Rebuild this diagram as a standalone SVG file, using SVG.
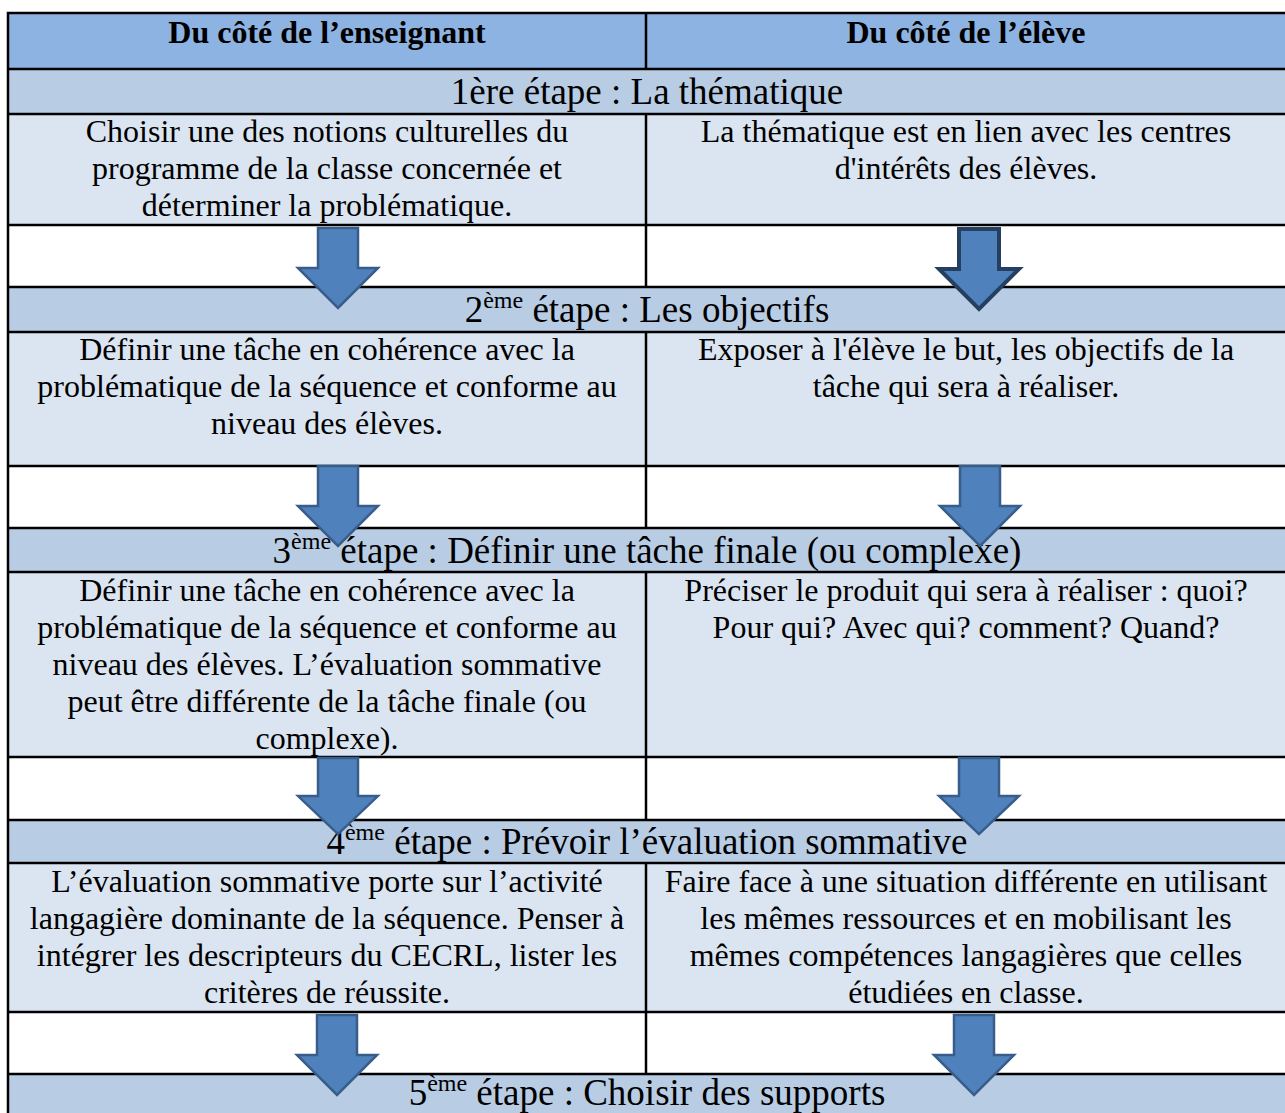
<svg xmlns="http://www.w3.org/2000/svg" width="1285" height="1113" viewBox="0 0 1285 1113">
<style>
.hdr{fill:#8DB3E2}
.ttl{fill:#B8CCE4}
.cnt{fill:#DBE5F1}
.blk{fill:#FFFFFF}
.grid{stroke:#000;stroke-width:2.5;fill:none}
text{font-family:"Liberation Serif","Times New Roman",serif;fill:#000;text-anchor:middle}
.h{font-size:32px;font-weight:bold}
.t{font-size:37px}
.b{font-size:32px}
.sup{font-size:24px}
.arr{fill:#4F81BD;stroke:#385D8A;stroke-width:2.5;stroke-linejoin:miter}
.arrd{fill:#4F81BD;stroke:#243F60;stroke-width:4;stroke-linejoin:miter}
</style>
<defs>
<path id="arrow" d="M -20,0 H 20 V 40 H 40 L 0,80 L -40,40 H -20 Z"/>
</defs>
<rect x="0" y="0" width="1285" height="1113" fill="#FFFFFF"/>

<g id="header">
<rect class="hdr" x="8" y="13" width="1280" height="56"/>
<text class="h" x="327" y="43">Du côté de l’enseignant</text>
<text class="h" x="966" y="43">Du côté de l’élève</text>
</g>

<g id="step1">
<rect class="ttl" x="8" y="69" width="1280" height="45"/>
<text class="t" x="647" y="104">1ère étape : La thématique</text>
</g>
<g id="step1-teacher">
<rect class="cnt" x="8" y="114" width="638" height="111"/>
<text class="b" x="327" y="142">Choisir une des notions culturelles du</text>
<text class="b" x="327" y="179">programme de la classe concernée et</text>
<text class="b" x="327" y="216">déterminer la problématique.</text>
</g>
<g id="step1-student">
<rect class="cnt" x="646" y="114" width="642" height="111"/>
<text class="b" x="966" y="142">La thématique est en lien avec les centres</text>
<text class="b" x="966" y="179">d'intérêts des élèves.</text>
</g>
<g id="gap1"><rect class="blk" x="8" y="225" width="1280" height="62"/></g>

<g id="step2">
<rect class="ttl" x="8" y="287" width="1280" height="45"/>
<text class="t" x="647" y="322">2<tspan class="sup" dy="-14">ème</tspan><tspan dy="14"> étape : Les objectifs</tspan></text>
</g>
<g id="step2-teacher">
<rect class="cnt" x="8" y="332" width="638" height="134"/>
<text class="b" x="327" y="360">Définir une tâche en cohérence avec la</text>
<text class="b" x="327" y="397">problématique de la séquence et conforme au</text>
<text class="b" x="327" y="434">niveau des élèves.</text>
</g>
<g id="step2-student">
<rect class="cnt" x="646" y="332" width="642" height="134"/>
<text class="b" x="966" y="360">Exposer à l'élève le but, les objectifs de la</text>
<text class="b" x="966" y="397">tâche qui sera à réaliser.</text>
</g>
<g id="gap2"><rect class="blk" x="8" y="466" width="1280" height="62"/></g>

<g id="step3">
<rect class="ttl" x="8" y="528" width="1280" height="44"/>
<text class="t" x="647" y="563">3<tspan class="sup" dy="-14">ème</tspan><tspan dy="14"> étape : Définir une tâche finale (ou complexe)</tspan></text>
</g>
<g id="step3-teacher">
<rect class="cnt" x="8" y="572" width="638" height="185"/>
<text class="b" x="327" y="601">Définir une tâche en cohérence avec la</text>
<text class="b" x="327" y="638">problématique de la séquence et conforme au</text>
<text class="b" x="327" y="675">niveau des élèves. L’évaluation sommative</text>
<text class="b" x="327" y="712">peut être différente de la tâche finale (ou</text>
<text class="b" x="327" y="749">complexe).</text>
</g>
<g id="step3-student">
<rect class="cnt" x="646" y="572" width="642" height="185"/>
<text class="b" x="966" y="601">Préciser le produit qui sera à réaliser : quoi?</text>
<text class="b" x="966" y="638">Pour qui? Avec qui? comment? Quand?</text>
</g>
<g id="gap3"><rect class="blk" x="8" y="757" width="1280" height="63"/></g>

<g id="step4">
<rect class="ttl" x="8" y="820" width="1280" height="43"/>
<text class="t" x="647" y="854">4<tspan class="sup" dy="-14">ème</tspan><tspan dy="14"> étape : Prévoir l’évaluation sommative</tspan></text>
</g>
<g id="step4-teacher">
<rect class="cnt" x="8" y="863" width="638" height="149"/>
<text class="b" x="327" y="892">L’évaluation sommative porte sur l’activité</text>
<text class="b" x="327" y="929">langagière dominante de la séquence. Penser à</text>
<text class="b" x="327" y="966">intégrer les descripteurs du CECRL, lister les</text>
<text class="b" x="327" y="1003">critères de réussite.</text>
</g>
<g id="step4-student">
<rect class="cnt" x="646" y="863" width="642" height="149"/>
<text class="b" x="966" y="892">Faire face à une situation différente en utilisant</text>
<text class="b" x="966" y="929">les mêmes ressources et en mobilisant les</text>
<text class="b" x="966" y="966">mêmes compétences langagières que celles</text>
<text class="b" x="966" y="1003">étudiées en classe.</text>
</g>
<g id="gap4"><rect class="blk" x="8" y="1012" width="1280" height="62"/></g>

<g id="step5">
<rect class="ttl" x="8" y="1074" width="1280" height="50"/>
<text class="t" x="647" y="1105">5<tspan class="sup" dy="-14">ème</tspan><tspan dy="14"> étape : Choisir des supports</tspan></text>
</g>

<g id="grid" class="grid">
<rect x="8" y="13" width="1280" height="1120"/>
<path d="M8,69 H1288 M8,114 H1288 M8,225 H1288 M8,287 H1288 M8,332 H1288 M8,466 H1288 M8,528 H1288 M8,572 H1288 M8,757 H1288 M8,820 H1288 M8,863 H1288 M8,1012 H1288 M8,1074 H1288"/>
<path d="M646,13 V69 M646,114 V287 M646,332 V528 M646,572 V820 M646,863 V1074"/>
</g>

<g id="connectors">
<use href="#arrow" class="arr" transform="translate(338,228)"/>
<use href="#arrow" class="arrd" transform="translate(979,229)"/>
<use href="#arrow" class="arr" transform="translate(338,466)"/>
<use href="#arrow" class="arr" transform="translate(980,466)"/>
<use href="#arrow" class="arr" transform="translate(338,758) scale(1,0.95)"/>
<use href="#arrow" class="arr" transform="translate(979,758) scale(1,0.95)"/>
<use href="#arrow" class="arr" transform="translate(337,1015)"/>
<use href="#arrow" class="arr" transform="translate(974,1015)"/>
</g>
</svg>
